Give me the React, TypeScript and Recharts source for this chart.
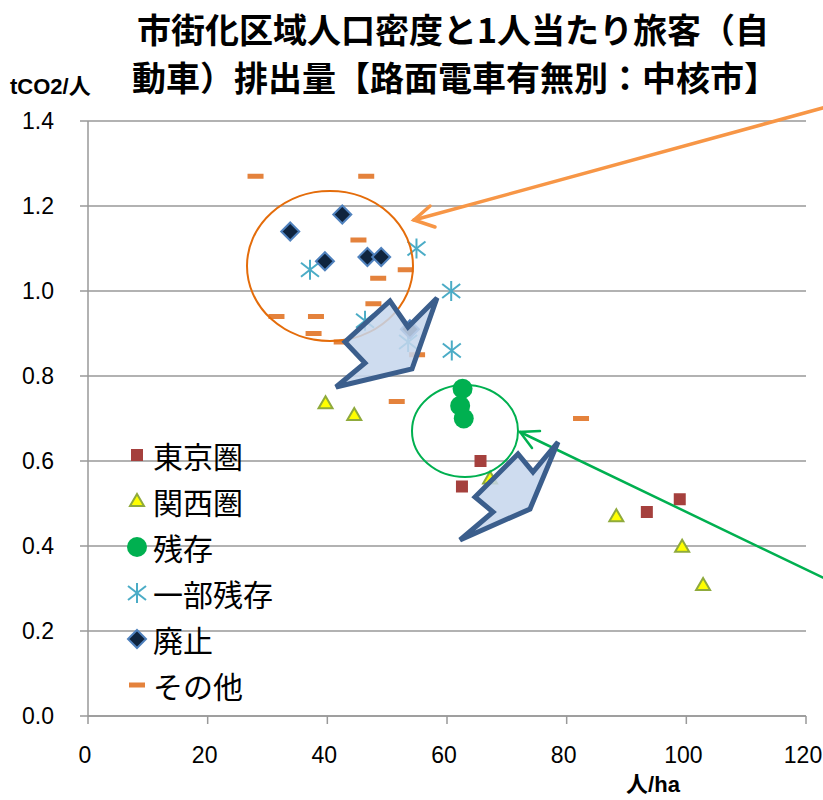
import React from 'react';
import { ScatterChart, Scatter, XAxis, YAxis, CartesianGrid } from 'recharts';

// 人/ha, tCO2/人
const tokyo = [[65.6, 0.60], [62.5, 0.54], [93.4, 0.48], [98.9, 0.51]];
const kansai = [[39.7, 0.736], [44.5, 0.708], [67.2, 0.559], [88.3, 0.47], [99.3, 0.398], [102.8, 0.308]];
const zanson = [[62.6, 0.77], [62.2, 0.73], [62.8, 0.70]];
const ichibu = [[37.1, 1.05], [54.9, 1.10], [60.7, 1.00], [46.3, 0.93], [53.5, 0.88], [60.8, 0.86]];
const haishi = [[33.8, 1.14], [42.5, 1.18], [39.6, 1.07], [46.7, 1.08], [49.0, 1.08], [53.8, 0.91]];
const sonota = [
  [28.0, 1.27], [46.5, 1.27], [45.2, 1.12], [53.1, 1.05], [48.5, 1.03], [47.7, 0.97], [31.5, 0.94],
  [38.1, 0.94], [37.7, 0.90], [42.4, 0.88], [55.0, 0.85], [51.6, 0.74], [82.4, 0.70],
];

const xTicks = [0, 20, 40, 60, 80, 100, 120];
const yTicks = [0, 0.2, 0.4, 0.6, 0.8, 1.0, 1.2, 1.4];

const toPoints = (arr: number[][]) => arr.map(([x, y]) => ({ x, y }));

const W = 823;
const H = 800;
const AXIS = '#999999';
const sansFont = '"Liberation Sans", Arial, sans-serif';
const jpFont = '"Noto Sans CJK JP", "Noto Sans", sans-serif';
const mixFont = '"Liberation Sans", "Noto Sans CJK JP", sans-serif';

// マーカー描画
const drawMarker = (name: string, cx: number, cy: number) => {
  switch (name) {
    case '東京圏':
      return <rect x={cx - 6} y={cy - 6} width={12} height={12} fill="#A5403D" />;
    case '関西圏':
      return (
        <polygon
          points={`${cx},${cy - 7} ${cx + 7},${cy + 5} ${cx - 7},${cy + 5}`}
          fill="#FFFF00"
          stroke="#8FAA3C"
          strokeWidth={2}
        />
      );
    case '残存':
      return <circle cx={cx} cy={cy} r={10} fill="#00B050" />;
    case '一部残存':
      return (
        <g stroke="#4BACC6" strokeWidth={2}>
          <line x1={cx} y1={cy - 10} x2={cx} y2={cy + 10} />
          <line x1={cx - 9} y1={cy - 7} x2={cx + 9} y2={cy + 7} />
          <line x1={cx - 9} y1={cy + 7} x2={cx + 9} y2={cy - 7} />
        </g>
      );
    case '廃止':
      return (
        <polygon
          points={`${cx},${cy - 9} ${cx + 9},${cy} ${cx},${cy + 9} ${cx - 9},${cy}`}
          fill="#0F243E"
          stroke="#4F81BD"
          strokeWidth={2}
        />
      );
    default:
      return <rect x={cx - 8} y={cy - 2.5} width={16} height={5} fill="#E4823C" />;
  }
};

const shapeFor = (name: string) => (props: any) => drawMarker(name, props.cx, props.cy);

const series = [
  { name: '東京圏', data: tokyo },
  { name: '関西圏', data: kansai },
  { name: '残存', data: zanson },
  { name: '一部残存', data: ichibu },
  { name: '廃止', data: haishi },
  { name: 'その他', data: sonota },
];

const XTick = (props: any) => {
  const { x, y, payload } = props;
  return (
    <text x={x - 3} y={y + 16} textAnchor="middle" fill="#000" fontSize={23} fontFamily={sansFont}>
      {payload.value}
    </text>
  );
};

const blockArrow1 = '336,387 365,363 345,342 390,301 408,327 437,298 412,369';
const blockArrow2 = '460,540 493,512 475,497 518,454 533,472 558,442 530,509';

const App: React.FC = () => {
  return (
    <div style={{ position: 'absolute', left: 0, top: 0, width: W, height: H, background: '#fff' }}>
      <ScatterChart width={W} height={H} margin={{ top: 121, right: 17, left: 0, bottom: 0 }}>
        <CartesianGrid vertical={false} stroke={AXIS} strokeWidth={1.5} />
        <XAxis
          type="number"
          dataKey="x"
          domain={[0, 120]}
          ticks={xTicks}
          height={84}
          tickSize={8}
          tickMargin={23}
          axisLine={{ stroke: AXIS, strokeWidth: 1.5 }}
          tickLine={{ stroke: AXIS, strokeWidth: 1.5 }}
          tick={<XTick />}
        />
        <YAxis
          type="number"
          dataKey="y"
          domain={[0, 1.4]}
          ticks={yTicks}
          width={88}
          tickSize={8}
          tickMargin={26}
          tickFormatter={(v: number) => v.toFixed(1)}
          axisLine={{ stroke: AXIS, strokeWidth: 1.5 }}
          tickLine={{ stroke: AXIS, strokeWidth: 1.5 }}
          tick={{ fill: '#000', fontSize: 23, fontFamily: sansFont }}
        />
        {series.map((s) => (
          <Scatter
            key={s.name}
            name={s.name}
            data={toPoints(s.data)}
            fill="#000"
            shape={shapeFor(s.name)}
            isAnimationActive={false}
          />
        ))}
      </ScatterChart>

      {/* 凡例 */}
      <div style={{ position: 'absolute', left: 122, top: 432 }}>
        {series.map((s) => (
          <div
            key={s.name}
            style={{ display: 'flex', alignItems: 'center', height: 46, fontFamily: jpFont, fontSize: 30, color: '#000' }}
          >
            <svg width={30} height={30} style={{ marginRight: 1 }}>
              {drawMarker(s.name, 15, 15)}
            </svg>
            <span>{s.name}</span>
          </div>
        ))}
      </div>

      {/* タイトル・軸ラベル・注記 */}
      <svg
        width={W}
        height={H}
        style={{ position: 'absolute', left: 0, top: 0, pointerEvents: 'none' }}
      >
        <text x={453} y={28} textAnchor="middle" dominantBaseline="central" fontFamily={jpFont} fontWeight="bold" fontSize={34}>
          市街化区域人口密度と1人当たり旅客（自
        </text>
        <text x={455} y={76} textAnchor="middle" dominantBaseline="central" fontFamily={jpFont} fontWeight="bold" fontSize={34}>
          動車）排出量【路面電車有無別：中核市】
        </text>
        <text x={10} y={86} dominantBaseline="central" fontFamily={mixFont} fontWeight="bold" fontSize={22}>
          tCO2/人
        </text>
        <text x={653} y={784} textAnchor="middle" dominantBaseline="central" fontFamily={mixFont} fontWeight="bold" fontSize={22}>
          人/ha
        </text>

        <ellipse cx={330} cy={266} rx={83} ry={75} fill="none" stroke="#E46C0A" strokeWidth={2} />
        <ellipse cx={465} cy={431} rx={53} ry={46} fill="none" stroke="#00B050" strokeWidth={2} />

        <g stroke="#F79646" strokeWidth={3.5} fill="none" strokeLinecap="round">
          <line x1={830} y1={106} x2={414} y2={220} />
          <polyline points="430,206 414,220 435,227" />
        </g>
        <g stroke="#00B050" strokeWidth={2.5} fill="none" strokeLinecap="round">
          <line x1={830} y1={581} x2={520} y2={432} />
          <polyline points="540,431 520,432 532,448" />
        </g>

        <polygon points={blockArrow1} fill="#C6D6EC" fillOpacity={0.85} stroke="#3B5E8C" strokeWidth={5} />
        <polygon points={blockArrow2} fill="#C6D6EC" fillOpacity={0.85} stroke="#3B5E8C" strokeWidth={5} />
      </svg>
    </div>
  );
};

export default App;
